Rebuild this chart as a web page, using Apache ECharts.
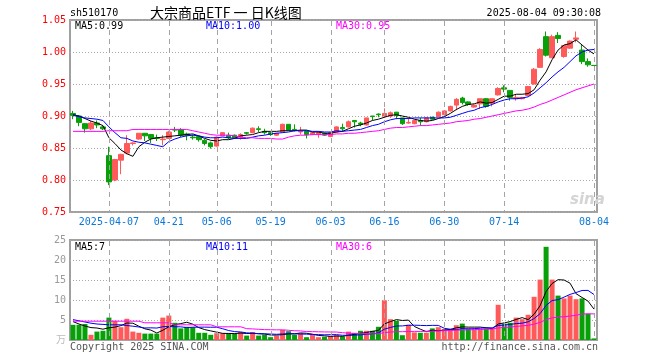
<!DOCTYPE html>
<html><head><meta charset="utf-8">
<script src="https://cdn.jsdelivr.net/npm/echarts/dist/echarts.min.js"></script>
<style>html,body{margin:0;padding:0;background:#fff}#c{width:660px;height:360px}</style>
</head><body><div id="c"></div>
<script>
const dates = ['2025-03-27','2025-03-28','2025-03-31','2025-04-01','2025-04-02','2025-04-03','2025-04-07','2025-04-08','2025-04-09','2025-04-10',
'2025-04-11','2025-04-14','2025-04-15','2025-04-16','2025-04-17','2025-04-18','2025-04-21','2025-04-22','2025-04-23','2025-04-24',
'2025-04-25','2025-04-28','2025-04-29','2025-04-30','2025-05-06','2025-05-07','2025-05-08','2025-05-09','2025-05-12','2025-05-13',
'2025-05-14','2025-05-15','2025-05-16','2025-05-19','2025-05-20','2025-05-21','2025-05-22','2025-05-23','2025-05-26','2025-05-27',
'2025-05-28','2025-05-29','2025-05-30','2025-06-03','2025-06-04','2025-06-05','2025-06-06','2025-06-09','2025-06-10','2025-06-11',
'2025-06-12','2025-06-13','2025-06-16','2025-06-17','2025-06-18','2025-06-19','2025-06-20','2025-06-23','2025-06-24','2025-06-25',
'2025-06-26','2025-06-27','2025-06-30','2025-07-01','2025-07-02','2025-07-03','2025-07-04','2025-07-07','2025-07-08','2025-07-09',
'2025-07-10','2025-07-11','2025-07-14','2025-07-15','2025-07-16','2025-07-17','2025-07-18','2025-07-21','2025-07-22','2025-07-23',
'2025-07-24','2025-07-25','2025-07-28','2025-07-29','2025-07-30','2025-07-31','2025-08-01','2025-08-04'];

const opens = [0.904,0.900,0.888,0.880,0.889,0.883,0.838,0.800,0.831,0.842,
0.857,0.864,0.873,0.871,0.866,0.863,0.865,0.879,0.879,0.872,
0.867,0.868,0.862,0.858,0.853,0.869,0.870,0.870,0.867,0.874,
0.874,0.880,0.876,0.874,0.870,0.875,0.887,0.879,0.875,0.876,
0.871,0.871,0.873,0.868,0.875,0.882,0.883,0.893,0.889,0.886,
0.900,0.903,0.900,0.900,0.906,0.897,0.889,0.888,0.893,0.891,
0.898,0.899,0.902,0.908,0.917,0.928,0.922,0.914,0.919,0.927,
0.920,0.933,0.944,0.940,0.927,0.927,0.932,0.950,0.976,1.024,
0.991,1.026,0.993,1.006,1.020,1.003,0.985,0.979];
const closes = [0.901,0.890,0.880,0.889,0.886,0.880,0.797,0.832,0.840,0.857,
0.858,0.873,0.869,0.865,0.865,0.864,0.875,0.878,0.870,0.870,
0.866,0.863,0.857,0.852,0.867,0.874,0.866,0.866,0.871,0.873,
0.881,0.879,0.874,0.871,0.873,0.887,0.878,0.878,0.876,0.871,
0.874,0.874,0.870,0.874,0.883,0.880,0.891,0.891,0.887,0.897,
0.899,0.902,0.904,0.905,0.901,0.888,0.890,0.893,0.891,0.897,
0.895,0.906,0.908,0.915,0.926,0.921,0.918,0.917,0.927,0.915,
0.927,0.943,0.942,0.929,0.929,0.929,0.946,0.973,1.004,0.995,
1.024,1.021,1.010,1.017,1.022,0.985,0.980,0.979];
const lows = [0.895,0.884,0.874,0.878,0.881,0.878,0.792,0.798,0.809,0.840,
0.854,0.863,0.861,0.858,0.861,0.854,0.864,0.875,0.867,0.862,
0.863,0.860,0.854,0.849,0.852,0.869,0.864,0.865,0.863,0.871,
0.873,0.875,0.871,0.869,0.869,0.874,0.877,0.876,0.871,0.865,
0.870,0.866,0.869,0.867,0.874,0.876,0.882,0.882,0.884,0.885,
0.893,0.898,0.897,0.897,0.895,0.886,0.888,0.887,0.885,0.890,
0.894,0.898,0.901,0.907,0.909,0.918,0.916,0.913,0.911,0.913,
0.915,0.932,0.937,0.924,0.924,0.926,0.931,0.949,0.975,0.993,
0.991,1.014,0.991,1.005,1.015,0.981,0.977,0.979];
const highs = [0.908,0.901,0.889,0.892,0.893,0.885,0.852,0.833,0.841,0.870,
0.859,0.873,0.873,0.872,0.871,0.870,0.877,0.883,0.881,0.874,
0.871,0.868,0.864,0.860,0.868,0.875,0.874,0.871,0.873,0.875,
0.882,0.884,0.880,0.875,0.874,0.888,0.887,0.887,0.883,0.877,
0.875,0.876,0.874,0.875,0.884,0.888,0.893,0.893,0.891,0.897,
0.900,0.904,0.912,0.907,0.906,0.897,0.897,0.894,0.897,0.898,
0.899,0.907,0.909,0.916,0.928,0.930,0.923,0.918,0.927,0.928,
0.927,0.945,0.948,0.940,0.934,0.930,0.947,0.975,1.006,1.032,
1.027,1.031,1.011,1.018,1.032,1.011,0.990,0.979];
const volumes = [3.8,3.8,4.0,1.3,2.1,2.3,5.6,4.8,3.2,5.3,
2.1,1.8,1.6,1.6,1.6,5.6,6.1,4.3,2.9,3.3,
3.2,1.8,1.8,1.3,1.7,1.7,1.7,1.6,2.0,1.1,
2.0,1.1,1.3,0.7,1.1,2.5,2.2,1.3,1.7,0.7,
1.3,0.7,0.8,1.0,1.2,0.9,2.1,1.8,2.3,2.3,
2.3,3.3,9.9,5.2,4.8,1.2,3.8,1.9,1.8,1.8,
2.9,3.2,2.7,2.7,3.7,4.1,2.9,2.7,2.7,2.9,
2.9,8.8,4.1,4.3,5.6,5.2,6.3,10.8,15.1,23.3,
15.1,11.1,10.4,11.1,10.2,10.4,6.5,0.4];

// moving-average values for the days before enough data exists
const ma5Head = [0.902,0.900,0.896,0.892];
const ma10Head = [0.901,0.899,0.897,0.896,0.895,0.893,0.883,0.874,0.866];
const ma30Head = [0.876,0.876,0.876,0.876,0.876,0.876,0.877,0.877,0.877,0.877,
0.879,0.879,0.879,0.879,0.879,0.879,0.879,0.879,0.879,0.879,
0.877,0.875,0.873,0.871,0.870,0.870,0.870,0.869,0.867];
const vma5Head = [4.6,4.0,3.5,3.1];
const vma10Head = [5.1,4.8,4.5,4.2,4.0,3.9,3.8,3.8,3.8];
const vma30Head = [4.7,4.7,4.7,4.7,4.7,4.7,4.7,4.7,4.7,4.7,4.7,4.7,
4.3,4.3,4.3,4.3,4.3,3.8,3.8,3.8,3.8,3.8,3.8,3.8,3.3,3.3,3.3,3.3,3.3];

const tickDates = ['2025-04-07','2025-04-21','2025-05-06','2025-05-19','2025-06-03','2025-06-16','2025-06-30','2025-07-14','2025-08-04'];
const tickLabels = ['2025-04-07','04-21','05-06','05-19','06-03','06-16','06-30','07-14','08-04'];
const priceMin = 0.75, priceMax = 1.05, priceStep = 0.05;
const volMin = 0, volMax = 25, volStep = 5;
const priceLegend = ['MA5:0.99','MA10:1.00','MA30:0.95'];
const volLegend = ['MA5:7','MA10:11','MA30:6'];

const UP = '#ff5a5a', DOWN = '#08a008';
const MONO = 'DejaVu Sans Mono';

function movingAvg(vals, n, head, dec) {
  return vals.map((v, i) => {
    if (i < n - 1) return head[i];
    let s = 0; for (let k = i - n + 1; k <= i; k++) s += vals[k];
    return +(s / n).toFixed(dec);
  });
}
const labelMap = {}; tickDates.forEach((d, i) => labelMap[d] = tickLabels[i]);
const tickIdx = new Set(tickDates.map(d => dates.indexOf(d)));

const kData = dates.map((d, i) => [opens[i], closes[i], lows[i], highs[i]]);
const dirUp = dates.map((d, i) => closes[i] > opens[i] || (closes[i] === opens[i] && i > 0 && closes[i] > closes[i-1]));
const volData = volumes.map((v, i) => ({ value: v, itemStyle: { color: dirUp[i] ? UP : DOWN } }));

function maLine(name, data, color, xi, yi) {
  return { name, type: 'line', xAxisIndex: xi, yAxisIndex: yi, data, showSymbol: false, symbol: 'none',
    lineStyle: { color, width: 1 }, silent: true, z: 4 };
}

const chart = echarts.init(document.getElementById('c'), null, { renderer: 'canvas' });
const txt = (x, y, text, color, opts) => Object.assign({ type: 'text', x, y, silent: true, z: 20,
  style: Object.assign({ text, fill: color, font: '10px "' + MONO + '"', textVerticalAlign: 'middle' }, opts || {}) });

chart.setOption({
  animation: false,
  backgroundColor: '#fff',
  grid: [
    { left: 70, top: 20, width: 527, height: 192, show: true, backgroundColor: 'transparent', borderColor: '#a0a0a0', borderWidth: 2 },
    { left: 70, top: 240, width: 527, height: 100, show: true, backgroundColor: 'transparent', borderColor: '#a0a0a0', borderWidth: 2 }
  ],
  xAxis: [
    { type: 'category', gridIndex: 0, data: dates, boundaryGap: true,
      axisLine: { show: false }, axisTick: { show: false }, splitLine: { show: false },
      axisLabel: { interval: (i) => tickIdx.has(i), formatter: (v) => labelMap[v] || '',
        color: '#0a78d8', fontFamily: MONO, fontSize: 10, margin: 5 } },
    { type: 'category', gridIndex: 1, data: dates, boundaryGap: true,
      axisLine: { show: false }, axisTick: { show: false }, splitLine: { show: false }, axisLabel: { show: false } }
  ],
  yAxis: [
    { type: 'value', gridIndex: 0, min: priceMin, max: priceMax, interval: priceStep,
      axisLine: { show: false }, axisTick: { show: false },
      axisLabel: { color: '#ff0000', fontFamily: MONO, fontSize: 10, margin: 4, formatter: v => v.toFixed(2) },
      splitLine: { lineStyle: { color: '#aaaaaa', type: [1, 2], width: 1 } } },
    { type: 'value', gridIndex: 1, min: volMin, max: volMax, interval: volStep,
      axisLine: { show: false }, axisTick: { show: false },
      axisLabel: { color: '#999999', fontFamily: MONO, fontSize: 10, margin: 4, formatter: v => v === 0 ? '' : String(v) },
      splitLine: { lineStyle: { color: '#aaaaaa', type: [1, 2], width: 1 } } }
  ],
  series: [
    { type: 'candlestick', xAxisIndex: 0, yAxisIndex: 0, data: kData, barWidth: 5, z: 3,
      itemStyle: { color: UP, color0: DOWN, borderColor: UP, borderColor0: DOWN, borderColorDoji: DOWN, borderWidth: 1 } },
    maLine('MA5', movingAvg(closes, 5, ma5Head, 3), '#000000', 0, 0),
    maLine('MA10', movingAvg(closes, 10, ma10Head, 3), '#0000ff', 0, 0),
    maLine('MA30', movingAvg(closes, 30, ma30Head, 3), '#ff00ff', 0, 0),
    { type: 'bar', xAxisIndex: 1, yAxisIndex: 1, data: volData, barWidth: 5, z: 3 },
    maLine('VMA5', movingAvg(volumes, 5, vma5Head, 2), '#000000', 1, 1),
    maLine('VMA10', movingAvg(volumes, 10, vma10Head, 2), '#0000ff', 1, 1),
    maLine('VMA30', movingAvg(volumes, 30, vma30Head, 2), '#ff00ff', 1, 1)
  ]
});

// vertical dashed date guides, placed through the library's own axis scales
const guides = [];
[[0, priceMin, priceMax], [1, volMin, volMax]].forEach(([gi, lo, hi]) => {
  const yTop = chart.convertToPixel({ gridIndex: gi }, [0, hi])[1];
  const yBot = chart.convertToPixel({ gridIndex: gi }, [0, lo])[1];
  tickDates.forEach(d => {
    const px = chart.convertToPixel({ gridIndex: gi }, [dates.indexOf(d), lo])[0];
    const x = Math.round(px) + 0.5;
    for (let y = yTop + 1; y < yBot - 1; y += 9) {
      guides.push({ type: 'rect', silent: true, z: 10,
        shape: { x: x - 0.5, y: y, width: 1, height: Math.min(5, yBot - 1 - y) },
        style: { fill: '#a4a4a4' } });
    }
  });
});

chart.setOption({
  graphic: { elements: guides.concat([
    txt(70, 13, 'sh510170', '#000'),
    txt(150, 13, '大宗商品ETF 一 日K线图', '#000', { font: '14px "Noto Sans CJK SC"' }),
    txt(601, 13, '2025-08-04 09:30:08', '#000', { textAlign: 'right' }),
    txt(75, 26, priceLegend[0], '#000000'),
    txt(206, 26, priceLegend[1], '#0000ff'),
    txt(336, 26, priceLegend[2], '#ff00ff'),
    txt(75, 247, volLegend[0], '#000000'),
    txt(206, 247, volLegend[1], '#0000ff'),
    txt(336, 247, volLegend[2], '#ff00ff'),
    txt(66, 339, '万', '#bbbbbb', { textAlign: 'right', font: '10px "Noto Sans CJK SC"' }),
    txt(70, 347, 'Copyright 2025 SINA.COM', '#555555'),
    txt(598, 347, 'http://finance.sina.com.cn', '#555555', { textAlign: 'right' }),
    txt(570, 200, 'sina', '#d4d4d4', { font: 'italic bold 15px "DejaVu Sans"' })
  ]) }
});
</script></body></html>
